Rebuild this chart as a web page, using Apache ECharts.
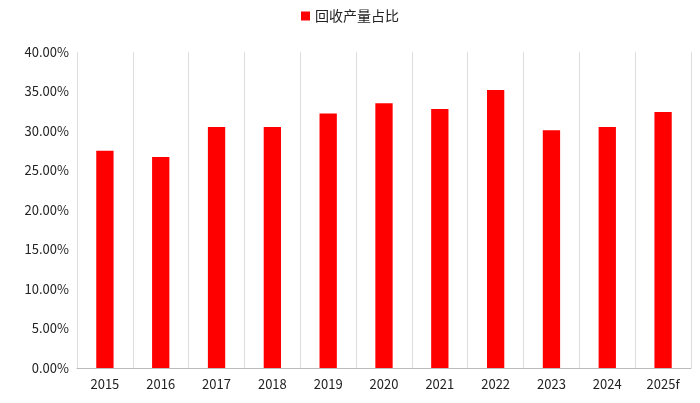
<!DOCTYPE html>
<html><head><meta charset="utf-8">
<script src="https://cdn.jsdelivr.net/npm/echarts@6/dist/echarts.min.js"></script>
<style>html,body{margin:0;padding:0;background:#fff}#c{width:700px;height:403px}</style>
</head><body><div id="c"></div>
<script>
const categories = ['2015','2016','2017','2018','2019','2020','2021','2022','2023','2024','2025f'];
const values = [27.5, 26.7, 30.5, 30.5, 32.2, 33.5, 32.8, 35.2, 30.1, 30.5, 32.4];
const seriesName = '回收产量占比';
const chart = echarts.init(document.getElementById('c'));
chart.setOption({
  animation: false,
  textStyle: {fontFamily: '"Noto Sans CJK SC", "Liberation Sans", sans-serif'},
  legend: {top: 4, left: 'center', itemWidth: 9, itemHeight: 9, icon: 'rect',
    textStyle: {fontSize: 14, color: '#222'}, data: [seriesName]},
  grid: {left: 77, right: 9, top: 52, bottom: 35, containLabel: false},
  xAxis: {type: 'category', data: categories,
    axisLine: {lineStyle: {color: '#bbb'}}, axisTick: {show: false},
    splitLine: {show: true, interval: 0, lineStyle: {color: '#ddd'}},
    axisLabel: {color: '#222', fontSize: 13, margin: 10}},
  yAxis: {type: 'value', min: 0, max: 40, interval: 5,
    splitLine: {show: false}, axisLine: {show: false}, axisTick: {show: false},
    axisLabel: {color: '#222', fontSize: 13, formatter: v => v.toFixed(2) + '%'}},
  series: [{name: seriesName, type: 'bar', data: values, barWidth: '31%',
    itemStyle: {color: '#ff0000'}}]
});
</script></body></html>
